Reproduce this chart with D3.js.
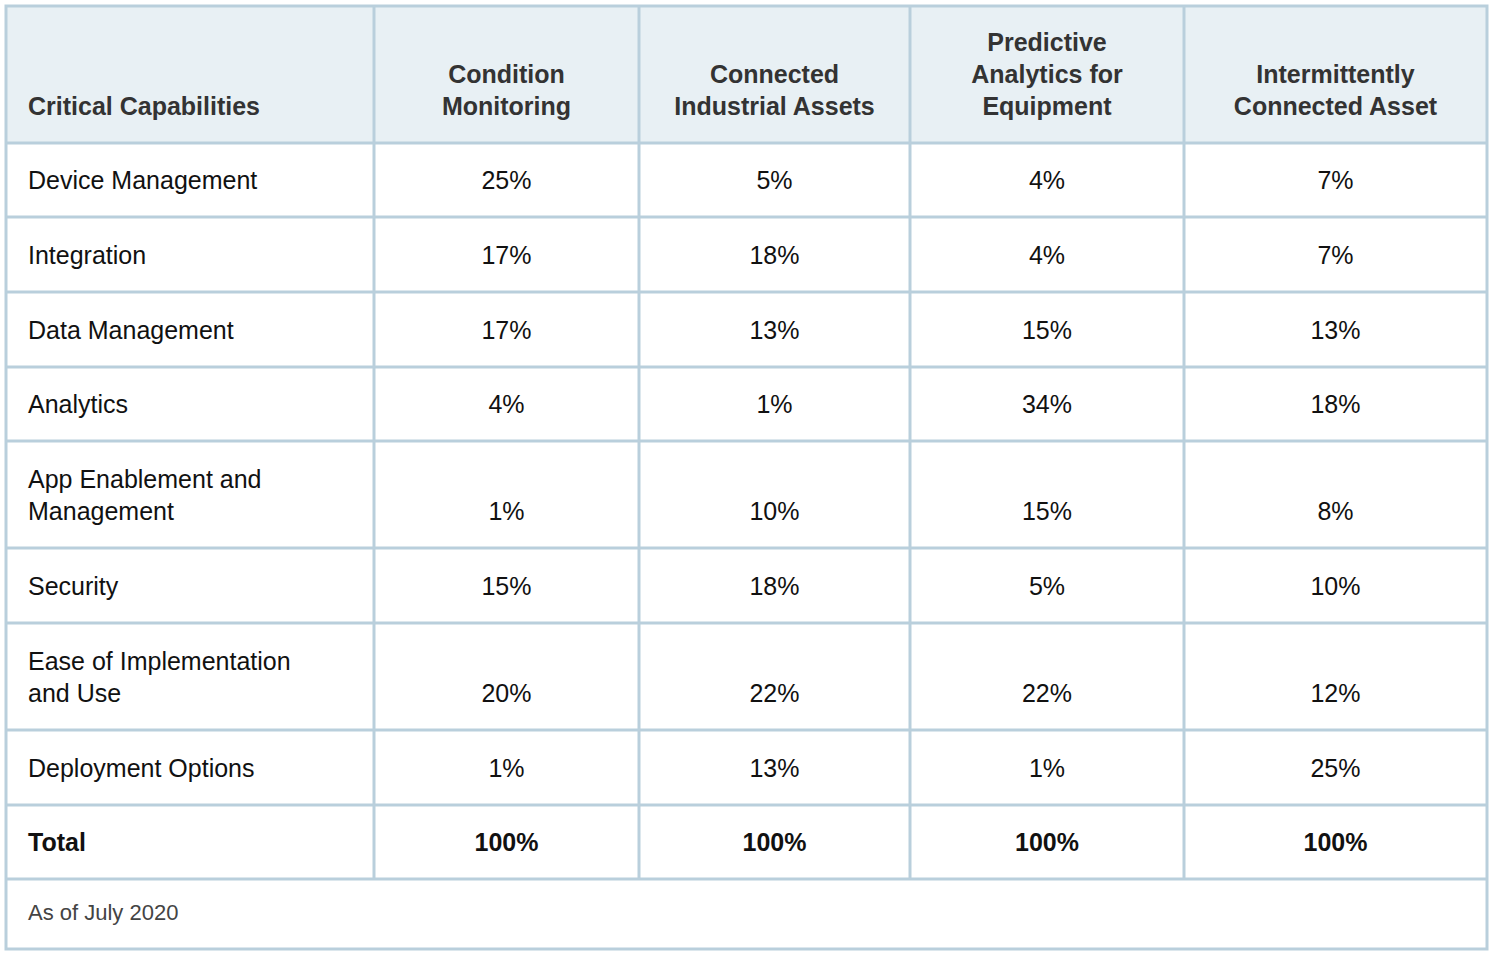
<!DOCTYPE html>
<html>
<head>
<meta charset="utf-8" />
<script src="https://d3js.org/d3.v7.min.js"></script>
<style>
  body { margin: 0; background: #fff; }
  text { font-family: "Liberation Sans", Arial, sans-serif; }
</style>
</head>
<body>
<div id="table"></div>
<script>
// column headers (each entry = lines of text)
var headers = [
  ["Critical Capabilities"],
  ["Condition", "Monitoring"],
  ["Connected", "Industrial Assets"],
  ["Predictive", "Analytics for", "Equipment"],
  ["Intermittently", "Connected Asset"]
];
var capabilities = [
  ["Device Management"],
  ["Integration"],
  ["Data Management"],
  ["Analytics"],
  ["App Enablement and", "Management"],
  ["Security"],
  ["Ease of Implementation", "and Use"],
  ["Deployment Options"],
  ["Total"]
];
var conditionMonitoring = ["25%", "17%", "17%", "4%", "1%", "15%", "20%", "1%", "100%"];
var connectedIndustrial = ["5%", "18%", "13%", "1%", "10%", "18%", "22%", "13%", "100%"];
var predictiveAnalytics = ["4%", "4%", "15%", "34%", "15%", "5%", "22%", "1%", "100%"];
var intermittentlyConnected = ["7%", "7%", "13%", "18%", "8%", "10%", "12%", "25%", "100%"];
var footnote = "As of July 2020";

var width = 1495, height = 954;
var colEdges = [6, 374, 639, 910, 1184, 1487];
var rowEdges = [6, 143, 217, 292, 367, 441, 548, 623, 730, 805, 879, 949];
var lineH = 32, bottomPad = 37, border = "#b9cfdc";

var svg = d3.select("#table").append("svg")
  .attr("width", width).attr("height", height);

// header background
svg.append("rect")
  .attr("x", colEdges[0]).attr("y", rowEdges[0])
  .attr("width", colEdges[5] - colEdges[0]).attr("height", rowEdges[1] - rowEdges[0])
  .attr("fill", "#e8f0f4");

var valueCols = [conditionMonitoring, connectedIndustrial, predictiveAnalytics, intermittentlyConnected];

function cellText(lines, col, rowIdx, opts) {
  var cx = col === 0 ? colEdges[0] + 22 : (colEdges[col] + colEdges[col + 1]) / 2;
  var bottom = rowEdges[rowIdx + 1];
  var g = svg.append("g");
  g.selectAll("text").data(lines).enter().append("text")
    .attr("x", cx)
    .attr("y", function(d, i) { return bottom - bottomPad - (lines.length - 1 - i) * lineH; })
    .attr("dy", "0.35em")
    .attr("text-anchor", col === 0 ? "start" : "middle")
    .style("font-size", opts.size + "px")
    .style("font-weight", opts.bold ? "bold" : "normal")
    .style("fill", opts.color)
    .text(function(d) { return d; });
}

headers.forEach(function(h, c) {
  cellText(h, c, 0, {size: 25, bold: true, color: "#333"});
});

capabilities.forEach(function(cap, r) {
  var isTotal = r === capabilities.length - 1;
  cellText(cap, 0, r + 1, {size: 25, bold: isTotal, color: "#111"});
  valueCols.forEach(function(vals, c) {
    cellText([vals[r]], c + 1, r + 1, {size: 25, bold: isTotal, color: "#111"});
  });
});

cellText([footnote], 0, rowEdges.length - 2, {size: 22, bold: false, color: "#444"});

// grid lines
var vLines = colEdges.slice(1, 5);
svg.selectAll("line.v").data(vLines).enter().append("line")
  .attr("x1", function(d) { return d; }).attr("x2", function(d) { return d; })
  .attr("y1", rowEdges[0]).attr("y2", rowEdges[rowEdges.length - 2])
  .attr("stroke", border).attr("stroke-width", 3);
svg.selectAll("line.h").data(rowEdges.slice(1, rowEdges.length - 1)).enter().append("line")
  .attr("x1", colEdges[0]).attr("x2", colEdges[5])
  .attr("y1", function(d) { return d; }).attr("y2", function(d) { return d; })
  .attr("stroke", border).attr("stroke-width", 3);
svg.append("rect")
  .attr("x", colEdges[0]).attr("y", rowEdges[0])
  .attr("width", colEdges[5] - colEdges[0])
  .attr("height", rowEdges[rowEdges.length - 1] - rowEdges[0])
  .attr("fill", "none").attr("stroke", border).attr("stroke-width", 3);
</script>
</body>
</html>
